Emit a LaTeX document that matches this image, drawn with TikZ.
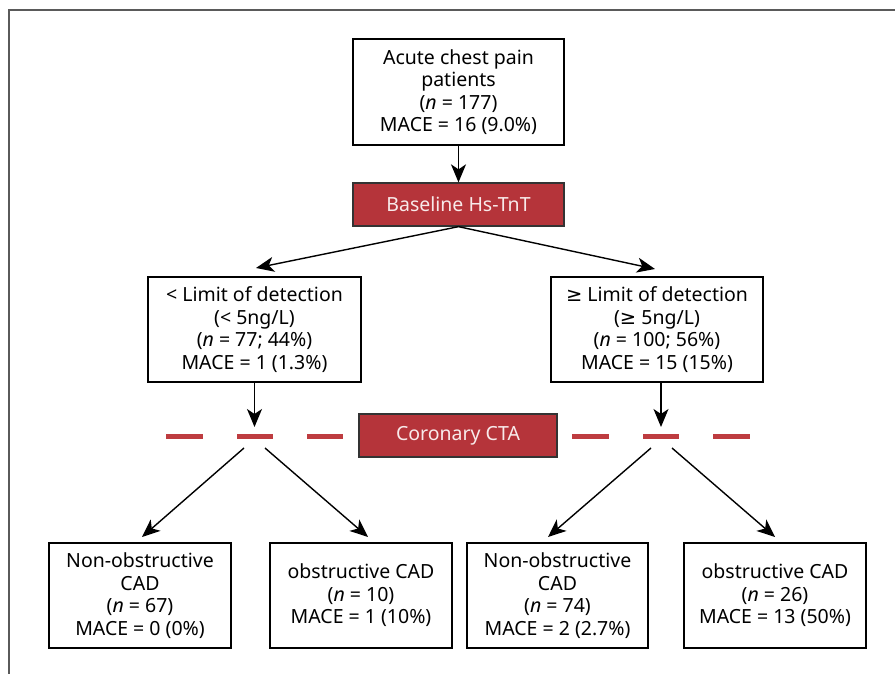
\documentclass[tikz,border=0pt]{standalone}
\usepackage{fontspec}
\setmainfont{Noto Sans}
\newfontfamily\symf{DejaVu Sans}
\usetikzlibrary{arrows.meta}
\definecolor{boxred}{HTML}{B5343A}
\definecolor{dashred}{HTML}{BE3C40}
\definecolor{framegray}{HTML}{5A5A5A}
\definecolor{redtext}{HTML}{F8EAEA}
\newcommand{\mygeq}{{\symf ≥}}
\begin{document}
\begin{tikzpicture}[x=1pt,y=-1pt,
  every node/.style={font=\fontsize{19.5}{22.5}\selectfont},
  whitebox/.style={draw=black,line width=1.3pt,fill=white,align=center,inner sep=0pt},
  redbox/.style={draw=black!80,line width=1.3pt,fill=boxred,text=redtext,align=center,inner sep=0pt},
  arr/.style={line width=1.4pt,-{Stealth[length=18pt,width=15pt,inset=5pt]}},
  dashseg/.style={line width=5pt,dashred}]
\useasboundingbox (0,0) rectangle (895,674);
\draw[framegray,line width=2pt] (9,674) -- (9,10) -- (895,10);

\node[whitebox,minimum width=211pt,minimum height=106pt] (top) at (458.5,92)
  {Acute chest pain\\patients\\(\textit{n} = 177)\\MACE = 16 (9.0\%)};
\node[redbox,minimum width=211pt,minimum height=43pt] (base) at (458.5,204.5) {Baseline Hs-TnT};
\node[whitebox,minimum width=213pt,minimum height=105pt] (L) at (254.5,329.5)
  {< Limit of detection\\(< 5ng/L)\\(\textit{n} = 77; 44\%)\\MACE = 1 (1.3\%)};
\node[whitebox,minimum width=212pt,minimum height=105pt] (R) at (657,329.5)
  {\mygeq{} Limit of detection\\(\mygeq{} 5ng/L)\\(\textit{n} = 100; 56\%)\\MACE = 15 (15\%)};

\coordinate (d1a) at (166,436); \coordinate (d1b) at (203,436);
\coordinate (d2a) at (237,436); \coordinate (d2b) at (273,436);
\coordinate (d3a) at (307,436); \coordinate (d3b) at (343,436);
\coordinate (d4a) at (572,436); \coordinate (d4b) at (609,436);
\coordinate (d5a) at (643,436); \coordinate (d5b) at (679,436);
\coordinate (d6a) at (713,436); \coordinate (d6b) at (750,436);
\foreach \i in {1,...,6} {\draw[dashseg] (d\i a) -- (d\i b);}

\node[redbox,minimum width=198pt,minimum height=43pt] (cta) at (458,435.5) {Coronary CTA};

\node[whitebox,minimum width=182pt,minimum height=105pt] (B1) at (140,595.5)
  {Non-obstructive\\CAD\\(\textit{n} = 67)\\MACE = 0 (0\%)};
\node[whitebox,minimum width=182pt,minimum height=105pt] (B2) at (361,595.5)
  {obstructive CAD\\(\textit{n} = 10)\\MACE = 1 (10\%)};
\node[whitebox,minimum width=181pt,minimum height=105pt] (B3) at (557.5,595.5)
  {Non-obstructive\\CAD\\(\textit{n} = 74)\\MACE = 2 (2.7\%)};
\node[whitebox,minimum width=182pt,minimum height=105pt] (B4) at (775,595.5)
  {obstructive CAD\\(\textit{n} = 26)\\MACE = 13 (50\%)};

\coordinate (Ltip) at (256,268);
\coordinate (Rtip) at (655,269);
\coordinate (Lend) at (254.5,427);
\coordinate (Rend) at (661,427);
\coordinate (s1) at (244,448);
\coordinate (s2) at (265,448);
\coordinate (s3) at (651,448);
\coordinate (s4) at (672,448);
\coordinate (t1) at (142,537);
\coordinate (t2) at (368,537);
\coordinate (t3) at (548,537);
\coordinate (t4) at (775,537);

\draw[arr] (top) -- (base);
\draw[arr] (base.south) -- (Ltip);
\draw[arr] (base.south) -- (Rtip);
\draw[arr] (L.south) -- (Lend);
\draw[arr] (R.south -| Rend) -- (Rend);
\draw[arr] (s1) -- (t1);
\draw[arr] (s2) -- (t2);
\draw[arr] (s3) -- (t3);
\draw[arr] (s4) -- (t4);
\end{tikzpicture}
\end{document}
